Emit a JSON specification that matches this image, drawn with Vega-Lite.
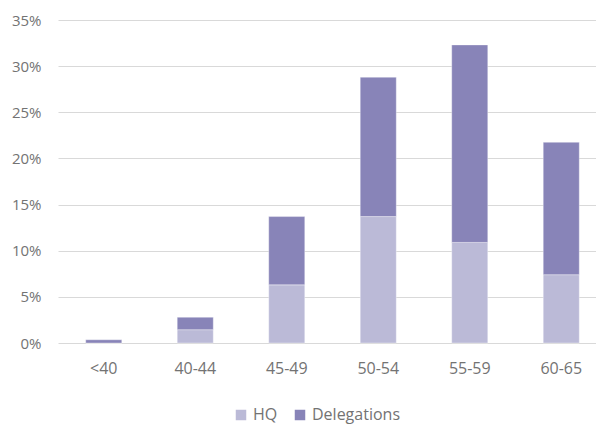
{
  "$schema": "https://vega.github.io/schema/vega-lite/v6.json",
  "autosize": "none",
  "padding": {"left": 58, "top": 20, "right": 0, "bottom": 87},
  "width": 538,
  "height": 323,
  "background": "white",
  "config": {
    "view": {"stroke": null},
    "font": "Open Sans",
    "axis": {"labelFont": "Open Sans", "labelColor": "#737373"},
    "legend": {"labelFont": "Open Sans", "labelColor": "#737373", "labelFontSize": 16}
  },
  "data": {
    "values": [
      {"age": "<40", "type": "HQ", "value": 0.0},
      {"age": "<40", "type": "Delegations", "value": 0.0035},
      {"age": "40-44", "type": "HQ", "value": 0.0144},
      {"age": "40-44", "type": "Delegations", "value": 0.0135},
      {"age": "45-49", "type": "HQ", "value": 0.063},
      {"age": "45-49", "type": "Delegations", "value": 0.074},
      {"age": "50-54", "type": "HQ", "value": 0.137},
      {"age": "50-54", "type": "Delegations", "value": 0.151},
      {"age": "55-59", "type": "HQ", "value": 0.109},
      {"age": "55-59", "type": "Delegations", "value": 0.214},
      {"age": "60-65", "type": "HQ", "value": 0.074},
      {"age": "60-65", "type": "Delegations", "value": 0.1435}
    ]
  },
  "mark": {"type": "bar", "stroke": "#ffffff", "strokeWidth": 0.6, "strokeOpacity": 0.6},
  "encoding": {
    "x": {
      "field": "age",
      "type": "nominal",
      "sort": ["<40", "40-44", "45-49", "50-54", "55-59", "60-65"],
      "scale": {"range": [0, 549], "paddingInner": 0.606, "paddingOuter": 0.303},
      "axis": {"title": null, "labelAngle": 0, "domain": false, "ticks": false, "labelPadding": 17, "labelFontSize": 16, "grid": false}
    },
    "y": {
      "field": "value",
      "type": "quantitative",
      "stack": "zero",
      "scale": {"domain": [0, 0.35], "nice": false},
      "axis": {"title": null, "format": ".0%", "values": [0, 0.05, 0.1, 0.15, 0.2, 0.25, 0.3, 0.35], "domain": false, "ticks": false, "labelPadding": 17, "labelFontSize": 15, "gridColor": "#d9d9d9", "gridWidth": 1}
    },
    "color": {
      "field": "type",
      "type": "nominal",
      "sort": ["HQ", "Delegations"],
      "scale": {"domain": ["HQ", "Delegations"], "range": ["#bbbad7", "#8884b8"]},
      "legend": {"title": null, "orient": "none", "legendX": 175, "legendY": 387, "direction": "horizontal", "symbolType": "square", "symbolSize": 110, "symbolStrokeWidth": 0, "columnPadding": 14, "labelOffset": 4}
    },
    "order": {"field": "type", "sort": "descending"}
  }
}
